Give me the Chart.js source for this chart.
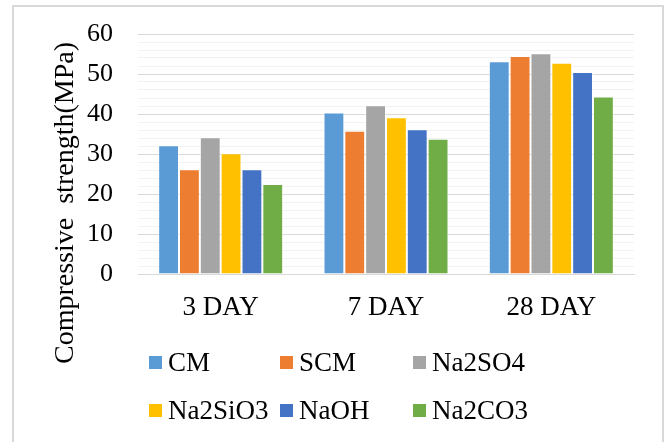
<!DOCTYPE html>
<html>
<head>
<meta charset="utf-8">
<script src="https://cdn.jsdelivr.net/npm/chart.js@4"></script>
<style>
  html, body { margin: 0; padding: 0; background: #fff; }
  #wrap { position: relative; width: 666px; height: 442px; overflow: hidden; }
  #frame {
    position: absolute; left: 12px; top: 5px; width: 652px; height: 460px;
    border: 2px solid #d9d9d9; box-sizing: border-box;
  }
  canvas { position: absolute; left: 0; top: 0; }
  #legend {
    position: absolute; left: 149px; top: 346px;
    display: grid; grid-template-columns: 131px 133px 140px; row-gap: 16px;
    font-family: "Liberation Serif", "Times New Roman", serif; font-size: 27px; color: #000;
  }
  #legend .item { display: flex; align-items: center; height: 32px; white-space: nowrap; }
  #legend .box { width: 13px; height: 13px; margin-right: 6px; flex: none; }
</style>
</head>
<body>
<div id="wrap">
  <div id="frame"></div>
  <canvas id="chart" width="666" height="442"></canvas>
  <div id="legend"></div>
</div>
<script>
// Curing ages and compressive strength (MPa) per mix
const ages = ['3 DAY', '7 DAY', '28 DAY']
const seriesNames = ['CM', 'SCM', 'Na2SO4', 'Na2SiO3', 'NaOH', 'Na2CO3']
const cm = [32.2, 40.4, 53.2]
const scm = [26.2, 35.8, 54.5]
const na2so4 = [34.2, 42.2, 55.2]
const na2sio3 = [30.2, 39.2, 52.8]
const naoh = [26.2, 36.2, 50.5]
const na2co3 = [22.5, 33.8, 44.4]
const yTicks = [0, 10, 20, 30, 40, 50, 60]

const seriesValues = [cm, scm, na2so4, na2sio3, naoh, na2co3]
const seriesColors = ['#5b9bd5', '#ed7d31', '#a5a5a5', '#ffc000', '#4472c4', '#70ad47']

const FONT = '"Liberation Serif", "Times New Roman", serif'

// vertical axis title, drawn beside the tick labels
const yTitle = {
  id: 'yTitle',
  afterDraw(chart) {
    const ctx = chart.ctx
    ctx.save()
    ctx.translate(66, 203)
    ctx.rotate(-Math.PI / 2)
    ctx.font = '28px ' + FONT
    ctx.fillStyle = '#000'
    ctx.textAlign = 'center'
    ctx.textBaseline = 'middle'
    ctx.fillText('Compressive  strength(MPa)', 0, 0)
    ctx.restore()
  }
}

const chart = new Chart(document.getElementById('chart'), {
  type: 'bar',
  data: {
    labels: ages,
    datasets: seriesNames.map((name, i) => ({
      label: name,
      data: seriesValues[i],
      backgroundColor: seriesColors[i],
      borderColor: 'rgba(255,255,255,0.45)',
      borderWidth: 1,
      categoryPercentage: 0.756,
      barPercentage: 1
    }))
  },
  options: {
    responsive: false,
    animation: false,
    layout: { padding: { left: 0, top: 34, right: 32, bottom: 108 } },
    plugins: {
      legend: { display: false },
      tooltip: { enabled: false }
    },
    scales: {
      x: {
        afterFit: (scale) => {
          scale.height = 60
          scale.paddingLeft = 0
          scale.paddingRight = 0
        },
        grid: { display: false, drawTicks: false },
        border: { display: true, color: '#d9d9d9', width: 1 },
        ticks: {
          padding: 18,
          color: '#000',
          font: { family: FONT, size: 27 }
        }
      },
      y: {
        min: 0,
        max: 60,
        afterFit: (scale) => {
          scale.width = 138
          scale.paddingTop = 0
          scale.paddingBottom = 0
        },
        afterBuildTicks: (scale) => {
          // minor lines every 2 MPa, labels on the tens
          const t = []
          for (let v = 0; v <= 60; v += 2) t.push({ value: v })
          scale.ticks = t
        },
        border: { display: false },
        grid: {
          drawTicks: false,
          color: (c) => (yTicks.includes(c.tick.value) ? '#d9d9d9' : '#f2f2f2'),
          lineWidth: 1
        },
        ticks: {
          autoSkip: false,
          padding: 25,
          color: '#000',
          font: { family: FONT, size: 26 },
          callback: (v) => (yTicks.includes(v) ? String(v) : '')
        }
      }
    }
  },
  plugins: [yTitle]
})

// legend in three fixed columns
const legendEl = document.getElementById('legend')
chart.data.datasets.forEach((ds) => {
  const item = document.createElement('div')
  item.className = 'item'
  const box = document.createElement('span')
  box.className = 'box'
  box.style.background = ds.backgroundColor
  item.appendChild(box)
  item.appendChild(document.createTextNode(ds.label))
  legendEl.appendChild(item)
})
</script>
</body>
</html>
